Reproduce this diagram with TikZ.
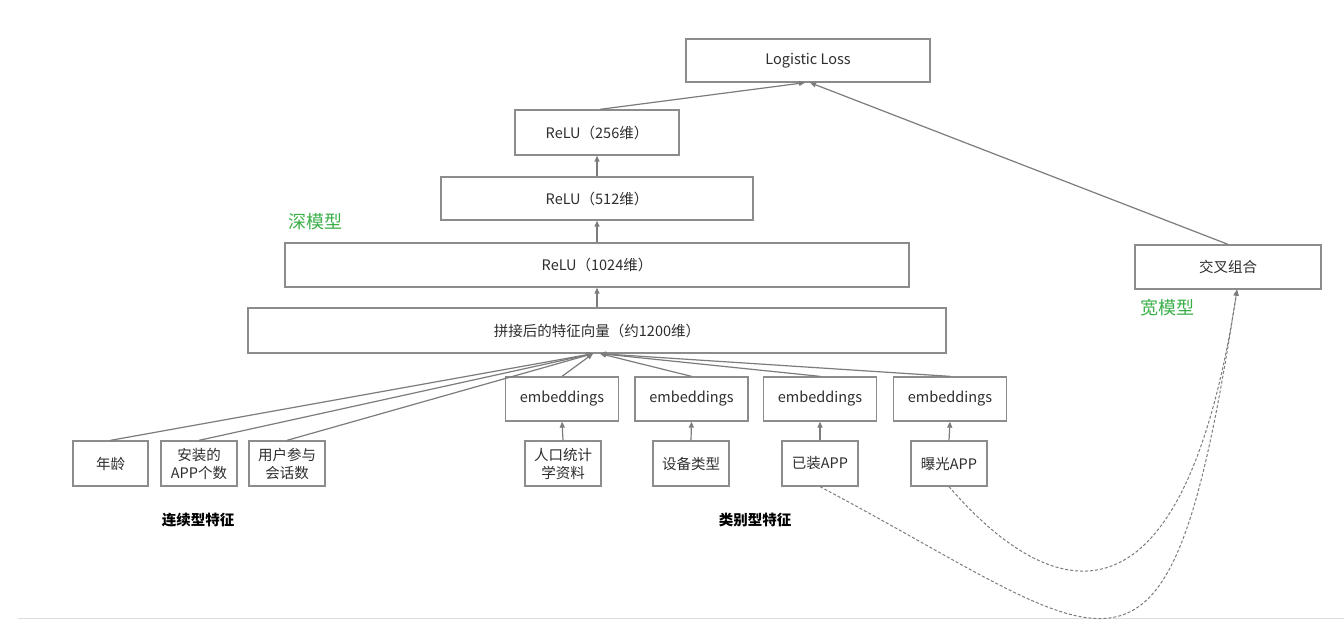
\documentclass[tikz,border=0pt]{standalone}
\usepackage{fontspec}
\setmainfont{Noto Sans CJK SC}
\usetikzlibrary{arrows.meta,calc}
\definecolor{boxgray}{HTML}{8C8C8C}
\definecolor{linegray}{HTML}{7C7C7C}
\definecolor{txt}{HTML}{2E2E2E}
\definecolor{labgreen}{HTML}{3BB04A}
\definecolor{rulegray}{HTML}{DDDDDD}
\begin{document}
\begin{tikzpicture}[x=1pt,y=-1pt,
  box/.style={draw=boxgray, line width=1.3pt, inner sep=0pt, fill=white,
    font=\fontsize{14.5}{18}\selectfont, text=txt, align=center},
  arr/.style={draw=linegray, line width=1.2pt, -{Triangle[length=6pt,width=5pt]}},
  dsh/.style={draw=linegray, line width=1pt, dash pattern=on 3pt off 2pt,
    -{Triangle[length=6pt,width=5pt]}},
  greenlab/.style={text=labgreen, font=\fontsize{18}{20}\selectfont, inner sep=0pt},
  boldlab/.style={text=black, font=\fontsize{14.5}{18}\selectfont\bfseries, inner sep=0pt}]
\useasboundingbox (0,0) rectangle (1344,620);
\fill[white] (0,0) rectangle (1344,620);
\draw[rulegray, line width=1.5pt] (18,618.5) -- (1344,618.5);

% deep tower
\node[box, minimum width=244pt, minimum height=43pt] (loss) at (808,60.5) {Logistic Loss};
\node[box, minimum width=164pt, minimum height=45pt] (r256) at (597,132.5) {ReLU（256维）};
\node[box, minimum width=312pt, minimum height=43pt] (r512) at (597,198.5) {ReLU（512维）};
\node[box, minimum width=624pt, minimum height=44pt] (r1024) at (597,265) {ReLU（1024维）};
\node[box, minimum width=698pt, minimum height=45pt] (cat) at (597,330.5) {拼接后的特征向量（约1200维）};
\node[box, minimum width=186pt, minimum height=44pt] (cross) at (1228,267) {交叉组合};

% embeddings
\node[box, minimum width=113pt, minimum height=44pt] (e1) at (562,399) {embeddings};
\node[box, minimum width=113pt, minimum height=44pt] (e2) at (691.5,399) {embeddings};
\node[box, minimum width=113pt, minimum height=44pt] (e3) at (820,399) {embeddings};
\node[box, minimum width=113pt, minimum height=44pt] (e4) at (950,399) {embeddings};

% features
\node[box, minimum width=75pt, minimum height=45pt] (f1) at (110.5,463.5) {年龄};
\node[box, minimum width=76pt, minimum height=45pt] (f2) at (199,463.5) {安装的\\APP个数};
\node[box, minimum width=76pt, minimum height=45pt] (f3) at (287,463.5) {用户参与\\会话数};
\node[box, minimum width=76pt, minimum height=45pt] (c1) at (563,463.5) {人口统计\\学资料};
\node[box, minimum width=76pt, minimum height=45pt] (c2) at (691,463.5) {设备类型};
\node[box, minimum width=76pt, minimum height=45pt] (c3) at (820,463.5) {已装APP};
\node[box, minimum width=76pt, minimum height=45pt] (c4) at (949,463.5) {曝光APP};

% labels
\node[greenlab] (deep) at (315,222) {深模型};
\node[greenlab] (wide) at (1167,308) {宽模型};
\node[boldlab] (cont) at (198,520) {连续型特征};
\node[boldlab] (cate) at (755,520) {类别型特征};

% arrows
\coordinate (tl) at ($(cat.south)+(-4,0)$);
\coordinate (tr) at ($(cat.south)+(3,0)$);
\draw[arr] (f1.north) -- (tl);
\draw[arr] (f2.north) -- (tl);
\draw[arr] (f3.north) -- (tl);
\draw[arr] (e1.north) -- (tl);
\draw[arr] (e2.north) -- (tr);
\draw[arr] (e3.north) -- (tr);
\draw[arr] (e4.north) -- (tr);

\draw[arr] (c1.north) -- (e1.south);
\draw[arr] (c2.north) -- (e2.south);
\draw[arr] (c3.north) -- (e3.south);
\draw[arr] (c4.north) -- (e4.south);

\draw[arr] (cat.north) -- (r1024.south);
\draw[arr] (r1024.north) -- (r512.south);
\draw[arr] (r512.north) -- (r256.south);
\draw[arr] ([xshift=3pt]r256.north) -- ([xshift=-3pt]loss.south);
\draw[arr] (cross.north) -- ([xshift=2pt]loss.south);

\draw[dsh] (c3.south) .. controls (1119,645) and (1168,740) .. ([xshift=9pt]cross.south);
\draw[dsh] (c4.south) .. controls (1060,615) and (1185,630) .. ([xshift=9pt]cross.south);
\end{tikzpicture}
\end{document}
